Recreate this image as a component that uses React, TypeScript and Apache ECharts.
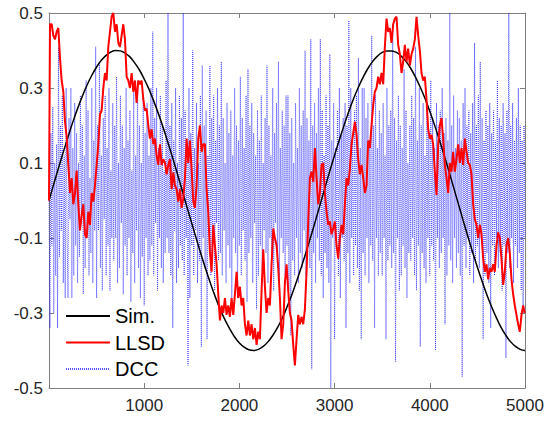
import React, { useEffect, useRef } from "react";
import * as echarts from "echarts";

const xTickStep = 1000;
const yTicks = [-0.5, -0.3, -0.1, 0.1, 0.3, 0.5];
const legendNames = ["Sim.", "LLSD", "DCC"];

// Sim. (black) sampled every 50 samples
const simStep = 50;
const simValues = [
  0, 0.044, 0.087, 0.129, 0.17, 0.209, 0.245, 0.278, 0.308, 0.334,
  0.356, 0.374, 0.387, 0.396, 0.4, 0.399, 0.393, 0.383, 0.367, 0.348,
  0.324, 0.297, 0.265, 0.231, 0.194, 0.154, 0.113, 0.07, 0.026, -0.018,
  -0.061, -0.104, -0.146, -0.186, -0.224, -0.259, -0.291, -0.319, -0.343, -0.364,
  -0.38, -0.391, -0.398, -0.4, -0.397, -0.389, -0.377, -0.36, -0.339, -0.314,
  -0.284, -0.252, -0.216, -0.178, -0.138, -0.096, -0.053, -0.009, 0.035, 0.079,
  0.121, 0.162, 0.201, 0.238, 0.272, 0.302, 0.329, 0.352, 0.371, 0.385,
  0.395, 0.399, 0.399, 0.395, 0.385, 0.371, 0.352, 0.329, 0.302, 0.272,
  0.238, 0.201, 0.162, 0.121, 0.079, 0.035, -0.009, -0.053, -0.096, -0.138,
  -0.178, -0.216, -0.252, -0.284, -0.313, -0.339, -0.36, -0.377, -0.389, -0.397,
  -0.4,
];

// LLSD (red): first sample, then every 17.5 samples starting at 10.5
const llsdFirst = 0.0;
const llsdStart = 10.5;
const llsdStep = 17.5;
const llsdValues = [
  0.47, 0.47, 0.44, 0.43, 0.45, 0.46, 0.38, 0.32, 0.29, 0.21,
  0.17, 0.095, 0.02, 0.06, -0.01, 0.02, 0.08, -0.01, -0.08, -0.04,
  -0.01, -0.09, -0.1, -0.03, -0.065, 0.02, -0.003, 0.04, 0.095, 0.15,
  0.23, 0.24, 0.3, 0.34, 0.32, 0.41, 0.45, 0.49, 0.5, 0.45,
  0.47, 0.42, 0.41, 0.44, 0.47, 0.43, 0.33, 0.32, 0.3, 0.34,
  0.29, 0.32, 0.26, 0.32, 0.31, 0.32, 0.27, 0.24, 0.245, 0.2,
  0.165, 0.19, 0.15, 0.165, 0.12, 0.095, 0.15, 0.095, 0.11, 0.1,
  0.07, 0.095, 0.11, 0.03, 0.075, 0.04, 0.03, -0.003, 0.03, -0.02,
  0.005, 0.06, 0.165, 0.1, 0.16, 0.085, -0.003, -0.02, 0.04, 0.165,
  0.2, 0.13, 0.15, 0.15, 0.03, -0.03, -0.14,
  -0.19, -0.065, -0.12, -0.17, -0.25, -0.32, -0.28, -0.3, -0.26, -0.305,
  -0.28, -0.31, -0.26, -0.305, -0.25, -0.19, -0.26, -0.23, -0.28, -0.26,
  -0.33, -0.36, -0.32, -0.36, -0.33, -0.37, -0.34, -0.385, -0.35, -0.37,
  -0.24, -0.13, -0.23, -0.3, -0.26, -0.28, -0.17, -0.075, -0.1, -0.12,
  -0.18, -0.26, -0.37, -0.33, -0.22, -0.17, -0.24, -0.3, -0.32, -0.385,
  -0.44, -0.37, -0.305, -0.33, -0.31, -0.33, -0.29, -0.19, -0.056, 0.06,
  0.077, 0.05, 0.14, 0.06, -0.01, 0.02, 0.095, 0.1, 0.02, -0.03,
  -0.065, -0.056, -0.09, -0.075, -0.056, -0.12, -0.155, -0.1, -0.065, -0.09,
  -0.01, 0.06, 0.04, 0.085, 0.15, 0.18, 0.21, 0.175, 0.11, 0.07,
  0.095, 0.06, 0.02, 0.04, 0.16, 0.14,
  0.2, 0.255, 0.29, 0.3, 0.33, 0.31, 0.34, 0.31, 0.41, 0.485,
  0.45, 0.46, 0.42, 0.47, 0.485, 0.49, 0.415, 0.39, 0.34, 0.37,
  0.415, 0.37, 0.405, 0.36, 0.39, 0.405, 0.43, 0.49, 0.44, 0.4,
  0.34, 0.32, 0.33, 0.27, 0.19, 0.165, 0.175, 0.15, 0.077, 0.015,
  0.15, 0.2, 0.22, 0.165, 0.095, 0.06, 0.02, 0.1, 0.077, 0.13,
  0.077, 0.11, 0.15, 0.1, 0.14, 0.095, 0.165, 0.13, 0.1, 0.095,
  0.07, -0.01, -0.05, -0.065, -0.1, -0.065, -0.09, -0.155, -0.19, -0.17,
  -0.21, -0.18, -0.19, -0.17, -0.19, -0.12, -0.085, -0.1, -0.155, -0.225,
  -0.19, -0.12, -0.1, -0.14, -0.21, -0.25, -0.28, -0.305, -0.33, -0.35,
  -0.305, -0.28, -0.3,
];

// DCC (blue dotted) every 10 samples
const dccStep = 10;
const dccValues = [
  0.02, -0.34, 0.18, -0.12, 0.25, -0.3, 0.1, -0.2, 0.15, -0.34,
  0.41, -0.15, 0.2, -0.08, 0.28, -0.22, 0.12, -0.26, 0.3, -0.1,
  -0.26, 0.22, -0.05, 0.3, -0.26, 0.14, -0.2, 0.26, -0.12, 0.18,
  -0.22, 0.1, -0.15, 0.28, -0.06, 0.2, -0.25, 0.12, -0.18, 0.32,
  -0.1, 0.24, -0.2, 0.06, -0.14, 0.3, -0.22, 0.16, -0.08, 0.41,
  -0.26, 0.2, -0.08, 0.37, -0.18, 0.12, -0.24, 0.22, -0.05, 0.28,
  -0.2, 0.14, -0.12, 0.3, -0.24, 0.08, -0.1, 0.26, -0.16, 0.2,
  -0.1, 0.33, -0.22, 0.1, -0.18, 0.28, -0.06, 0.2, -0.25, 0.14,
  -0.12, 0.3, -0.2, 0.16, -0.1, 0.24, -0.27, 0.08, -0.14, 0.29,
  -0.22, 0.12, -0.08, 0.32, -0.18, 0.2, -0.26, 0.1, -0.15, 0.27,
  -0.28, 0.18, -0.1, 0.26, -0.2, 0.12, -0.16, 0.3, -0.12, 0.45,
  -0.2, 0.22, -0.06, 0.3, -0.24, 0.14, -0.1, 0.28, -0.18, 0.2,
  -0.22, 0.08, -0.14, 0.32, -0.1, 0.5, -0.14, 0.2, -0.2, 0.26,
  -0.34, 0.16, -0.08, 0.3, -0.22, 0.1, -0.18, 0.28, -0.12, 0.22,
  -0.16, 0.5, -0.2, 0.24, -0.1, 0.12, -0.44, 0.3, -0.26, 0.18,
  -0.12, 0.4, -0.2, 0.14, -0.08, 0.26, -0.22, 0.1, -0.16, 0.28,
  -0.39, 0.36, -0.1, 0.2, -0.18, 0.24, -0.37, 0.12, -0.08, 0.36,
  -0.2, 0.22, -0.12, 0.28, -0.24, 0.16, -0.06, 0.3, -0.16, 0.2,
  -0.14, 0.37, -0.2, 0.22, -0.08, 0.1, -0.22, 0.26, -0.12, 0.18,
  -0.18, 0.24, -0.26, 0.12, -0.1, 0.3, -0.14, 0.2, -0.26, 0.16,
  -0.12, 0.33, -0.2, 0.22, -0.08, 0.14, -0.16, 0.28, -0.27, 0.35,
  -0.14, 0.2, -0.1, 0.26, -0.22, 0.18, -0.06, 0.12, -0.29, 0.24,
  -0.2, 0.16, -0.12, 0.28, -0.18, 0.1, -0.08, 0.22, -0.14, 0.36,
  -0.22, 0.2, -0.1, 0.12, -0.16, 0.3, -0.24, 0.18, -0.06, 0.26,
  -0.18, 0.37, -0.22, 0.14, -0.1, 0.24, -0.14, 0.2, -0.2, 0.28,
  -0.12, 0.28, -0.24, 0.18, -0.36, 0.22, -0.16, 0.1, -0.2, 0.26,
  -0.1, 0.14, -0.22, 0.3, -0.14, 0.2, -0.18, 0.24, -0.08, 0.4,
  -0.2, 0.22, -0.1, 0.16, -0.18, 0.43, -0.45, 0.2, -0.14, 0.26,
  -0.22, 0.18, -0.1, 0.3, -0.16, 0.43, -0.2, 0.24, -0.26, 0.12,
  -0.14, 0.28, -0.18, 0.2, -0.22, 0.39, -0.5, 0.16, -0.1, 0.26,
  -0.37, 0.14, -0.12, 0.24, -0.2, 0.3, -0.26, 0.18, -0.1, 0.22,
  -0.16, 0.26, -0.34, 0.2, -0.14, 0.48, -0.22, 0.3, -0.1, 0.16,
  -0.2, 0.24, -0.12, 0.28, -0.18, 0.38, -0.24, 0.14, -0.37, 0.3,
  -0.14, 0.3, -0.2, 0.22, -0.1, 0.26, -0.22, 0.16, -0.12, 0.44,
  -0.16, 0.2, -0.34, 0.28, -0.1, 0.14, -0.2, 0.24, -0.14, 0.18,
  -0.2, 0.26, -0.1, 0.12, -0.37, 0.3, -0.16, 0.2, -0.12, 0.24,
  -0.18, 0.47, -0.14, 0.22, -0.43, 0.16, -0.1, 0.28, -0.24, 0.2,
  -0.2, 0.14, -0.12, 0.35, -0.18, 0.24, -0.26, 0.1, -0.14, 0.2,
  -0.16, 0.28, -0.1, 0.22, -0.2, 0.41, -0.24, 0.16, -0.12, 0.3,
  -0.39, 0.2, -0.14, 0.26, -0.18, 0.12, -0.22, 0.24, -0.1, 0.18,
  -0.2, 0.32, -0.12, 0.22, -0.16, 0.14, -0.4, 0.26, -0.1, 0.2,
  -0.18, 0.24, -0.14, 0.3, -0.1, 0.18, -0.33, 0.22, -0.2, 0.16,
  -0.12, 0.5, -0.16, 0.2, -0.22, 0.28, -0.1, 0.14, -0.18, 0.24,
  -0.14, 0.22, -0.2, 0.16, -0.47, 0.26, -0.12, 0.3, -0.18, 0.2,
  -0.1, 0.24, -0.2, 0.18, -0.14, 0.26, -0.22, 0.42, -0.16, 0.2,
  -0.12, 0.28, -0.18, 0.37, -0.1, 0.22, -0.37, 0.16, -0.2, 0.24,
  -0.14, 0.2, -0.22, 0.26, -0.34, 0.18, -0.12, 0.24, -0.2, 0.16,
  -0.1, 0.32, -0.18, 0.22, -0.14, 0.2, -0.24, 0.26, -0.12, 0.18,
  -0.42, 0.24, -0.14, 0.5, -0.18, 0.2, -0.1, 0.26, -0.22, 0.16,
  -0.12, 0.22, -0.18, 0.3, -0.14, 0.2, -0.24, 0.16, -0.3, 0.2,
  -0.1,
];

const FONT = "'Liberation Sans', Arial, sans-serif";
const AXIS_COLOR = "#808080";
const LABEL_COLOR = "#262626";

export default function App() {
  const ref = useRef<HTMLDivElement>(null);

  useEffect(() => {
    document.body.style.margin = "0";
    if (!ref.current) return;
    const chart = echarts.init(ref.current, undefined, { renderer: "svg" });

    const simData = simValues.map((v, i) => [i * simStep, v]);
    const llsdData = [[0, llsdFirst], ...llsdValues.map((v, i) => [llsdStart + i * llsdStep, v])];
    const dccData = dccValues.map((v, i) => [i * dccStep, v]);

    const axisCommon = {
      axisLine: { show: true, onZero: false, lineStyle: { color: AXIS_COLOR, width: 1 } },
      axisTick: { show: true, inside: true, length: 5, lineStyle: { color: AXIS_COLOR } },
      splitLine: { show: false },
    };

    chart.setOption({
      animation: false,
      backgroundColor: "#ffffff",
      grid: { left: 49, top: 13, width: 476, height: 375, containLabel: false },
      xAxis: [
        {
          type: "value",
          min: 0,
          max: 5000,
          interval: xTickStep,
          ...axisCommon,
          axisLabel: {
            color: LABEL_COLOR,
            fontFamily: FONT,
            fontSize: 17,
            margin: 9,
            formatter: (v: number) => (v === 0 ? "" : String(v)),
          },
        },
        {
          type: "value",
          position: "top",
          min: 0,
          max: 5000,
          interval: xTickStep,
          ...axisCommon,
          axisLabel: { show: false },
        },
      ],
      yAxis: [
        {
          type: "value",
          min: yTicks[0],
          max: yTicks[yTicks.length - 1],
          interval: 0.2,
          ...axisCommon,
          axisLabel: {
            color: LABEL_COLOR,
            fontFamily: FONT,
            fontSize: 17,
            margin: 6,
            formatter: (v: number) => v.toFixed(1),
          },
        },
        {
          type: "value",
          position: "right",
          min: yTicks[0],
          max: yTicks[yTicks.length - 1],
          interval: 0.2,
          ...axisCommon,
          axisLabel: { show: false },
        },
      ],
      legend: {
        show: true,
        data: legendNames,
        orient: "vertical",
        left: 65,
        top: 306,
        padding: 0,
        itemWidth: 44,
        itemHeight: 14,
        itemGap: 6.5,
        backgroundColor: "transparent",
        itemStyle: { opacity: 0 },
        textStyle: { fontFamily: FONT, fontSize: 20, color: "#000000", lineHeight: 20 },
      },
      series: [
        {
          name: "DCC",
          type: "line",
          data: dccData,
          symbol: "none",
          showSymbol: false,
          clip: true,
          z: 1,
          lineStyle: { color: "#1a1aff", width: 0.9, type: [1, 1], opacity: 0.75 },
          itemStyle: { color: "#1a1aff" },
        },
        {
          name: "Sim.",
          type: "line",
          data: simData,
          smooth: 0.4,
          symbol: "none",
          showSymbol: false,
          clip: true,
          z: 2,
          lineStyle: { color: "#000000", width: 1.5 },
          itemStyle: { color: "#000000" },
        },
        {
          name: "LLSD",
          type: "line",
          data: llsdData,
          symbol: "none",
          showSymbol: false,
          clip: true,
          z: 3,
          lineStyle: { color: "#ff0000", width: 2 },
          itemStyle: { color: "#ff0000" },
        },
      ],
    });

    return () => chart.dispose();
  }, []);

  return <div ref={ref} style={{ width: 554, height: 421 }} />;
}
